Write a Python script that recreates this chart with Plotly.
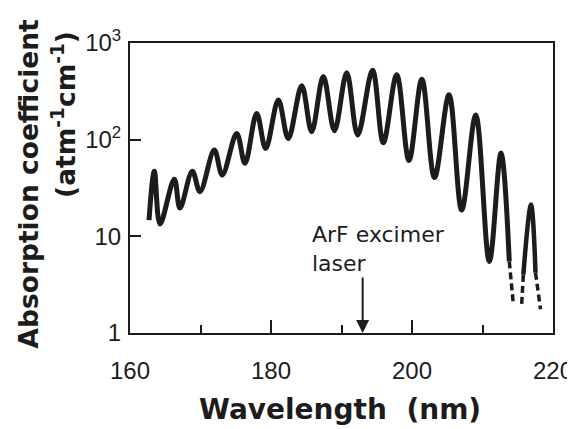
import plotly.graph_objects as go

# Main solid absorption curve (peaks and troughs)
wavelength_nm = [162.7, 163.45, 164.26, 166.28, 167.09, 168.84, 169.93, 171.96, 173.09,
                 175.13, 176.31, 177.97, 179.25, 181.04, 182.45, 184.36, 185.77, 187.42,
                 189.0, 190.74, 192.30, 194.40, 195.93, 197.83, 199.57, 201.4, 203.19,
                 205.25, 207.05, 209.04, 210.97, 212.62, 213.80]
absorption = [14.7, 47, 13.4, 39, 19.6, 47, 29, 78, 43,
              116, 57, 187, 81, 257, 103, 361, 121, 450,
              124, 491, 112, 521, 93, 470, 61, 422, 40.5,
              291, 18.7, 180, 5.5, 72.7, 5.5]

# Last solid band
band2_nm = [215.79, 216.88, 217.52]
band2_abs = [4.0, 21.4, 4.2]

# Dashed (extrapolated) segments
dash1_nm = [213.80, 214.37]
dash1_abs = [5.5, 1.99]
dash2_nm = [215.56, 215.79]
dash2_abs = [2.0, 4.0]
dash3_nm = [217.52, 218.23]
dash3_abs = [4.2, 1.76]

x_tickvals = [160, 180, 200, 220]
x_ticktext = ["160", "180", "200", "220"]
y_tickvals = [1, 10, 100, 1000]
y_ticktext = ["1", "10", "10<sup>2</sup>", "10<sup>3</sup>"]

laser_nm = 193

ink = "#1c1c1c"
fig = go.Figure()
fig.add_trace(go.Scatter(x=wavelength_nm, y=absorption, mode="lines",
                         line=dict(color=ink, width=5, shape="spline", smoothing=1.0),
                         hoverinfo="skip"))
fig.add_trace(go.Scatter(x=band2_nm, y=band2_abs, mode="lines",
                         line=dict(color=ink, width=4.5, shape="spline", smoothing=1.0),
                         hoverinfo="skip"))
for xs, ys in [(dash1_nm, dash1_abs), (dash2_nm, dash2_abs), (dash3_nm, dash3_abs)]:
    fig.add_trace(go.Scatter(x=xs, y=ys, mode="lines",
                             line=dict(color=ink, width=3.5, dash="7px,4px"),
                             hoverinfo="skip"))

# page body has an 8px margin, so the figure is sized to fit the window
fig.update_layout(
    width=567, height=421,
    margin=dict(l=122, r=22, t=35, b=96, autoexpand=False),
    paper_bgcolor="white", plot_bgcolor="white",
    showlegend=False,
    font=dict(family="DejaVu Sans", color=ink),
)
tick_font = dict(family="Liberation Sans", size=24, color=ink)
fig.update_xaxes(
    range=[160, 220], showgrid=False, zeroline=False, automargin=False,
    showline=True, linecolor=ink, linewidth=2, mirror=True,
    tickmode="array", tickvals=x_tickvals, ticktext=x_ticktext,
    ticks="inside", ticklen=13, tickwidth=2, tickcolor=ink,
    minor=dict(dtick=10, ticks="inside", ticklen=8, tickwidth=2, tickcolor=ink, showgrid=False),
    tickfont=tick_font,
    ticklabelstandoff=15,
)
fig.update_yaxes(
    type="log", range=[0, 3], showgrid=False, zeroline=False, automargin=False,
    showline=True, linecolor=ink, linewidth=2, mirror=True,
    tickmode="array", tickvals=y_tickvals, ticktext=y_ticktext,
    ticks="inside", ticklen=11, tickwidth=2, tickcolor=ink,
    tickfont=tick_font,
    ticklabelstandoff=2,
)

# Axis titles
fig.add_annotation(text="Wavelength  (nm)", xref="paper", yref="paper",
                   x=0.496, y=-0.265, xanchor="center", yanchor="middle",
                   showarrow=False,
                   font=dict(family="DejaVu Sans", size=28, color=ink, weight="bold"))
fig.add_annotation(text="Absorption coefficient", xref="paper", yref="paper",
                   x=-0.241, y=0.5155, xanchor="center", yanchor="middle", textangle=-90,
                   showarrow=False,
                   font=dict(family="DejaVu Sans", size=26.5, color=ink, weight="bold"))
fig.add_annotation(text="(atm<sup>-1</sup>cm<sup>-1</sup>)", xref="paper", yref="paper",
                   x=-0.156, y=0.752, xanchor="center", yanchor="middle", textangle=-90,
                   showarrow=False,
                   font=dict(family="DejaVu Sans", size=26.5, color=ink, weight="bold"))

# ArF laser marker
fig.add_annotation(text="ArF excimer<br>laser", x=185.5, y=0.869, xref="x", yref="y",
                   xanchor="left", yanchor="middle", align="left", showarrow=False,
                   font=dict(family="DejaVu Sans", size=22, color=ink))
fig.add_annotation(text="", x=laser_nm, y=0, xref="x", yref="y",
                   showarrow=True, ax=0, ay=-57, arrowhead=2, arrowsize=1.3,
                   arrowwidth=2, arrowcolor=ink, standoff=0)

fig.write_html("out.html")
